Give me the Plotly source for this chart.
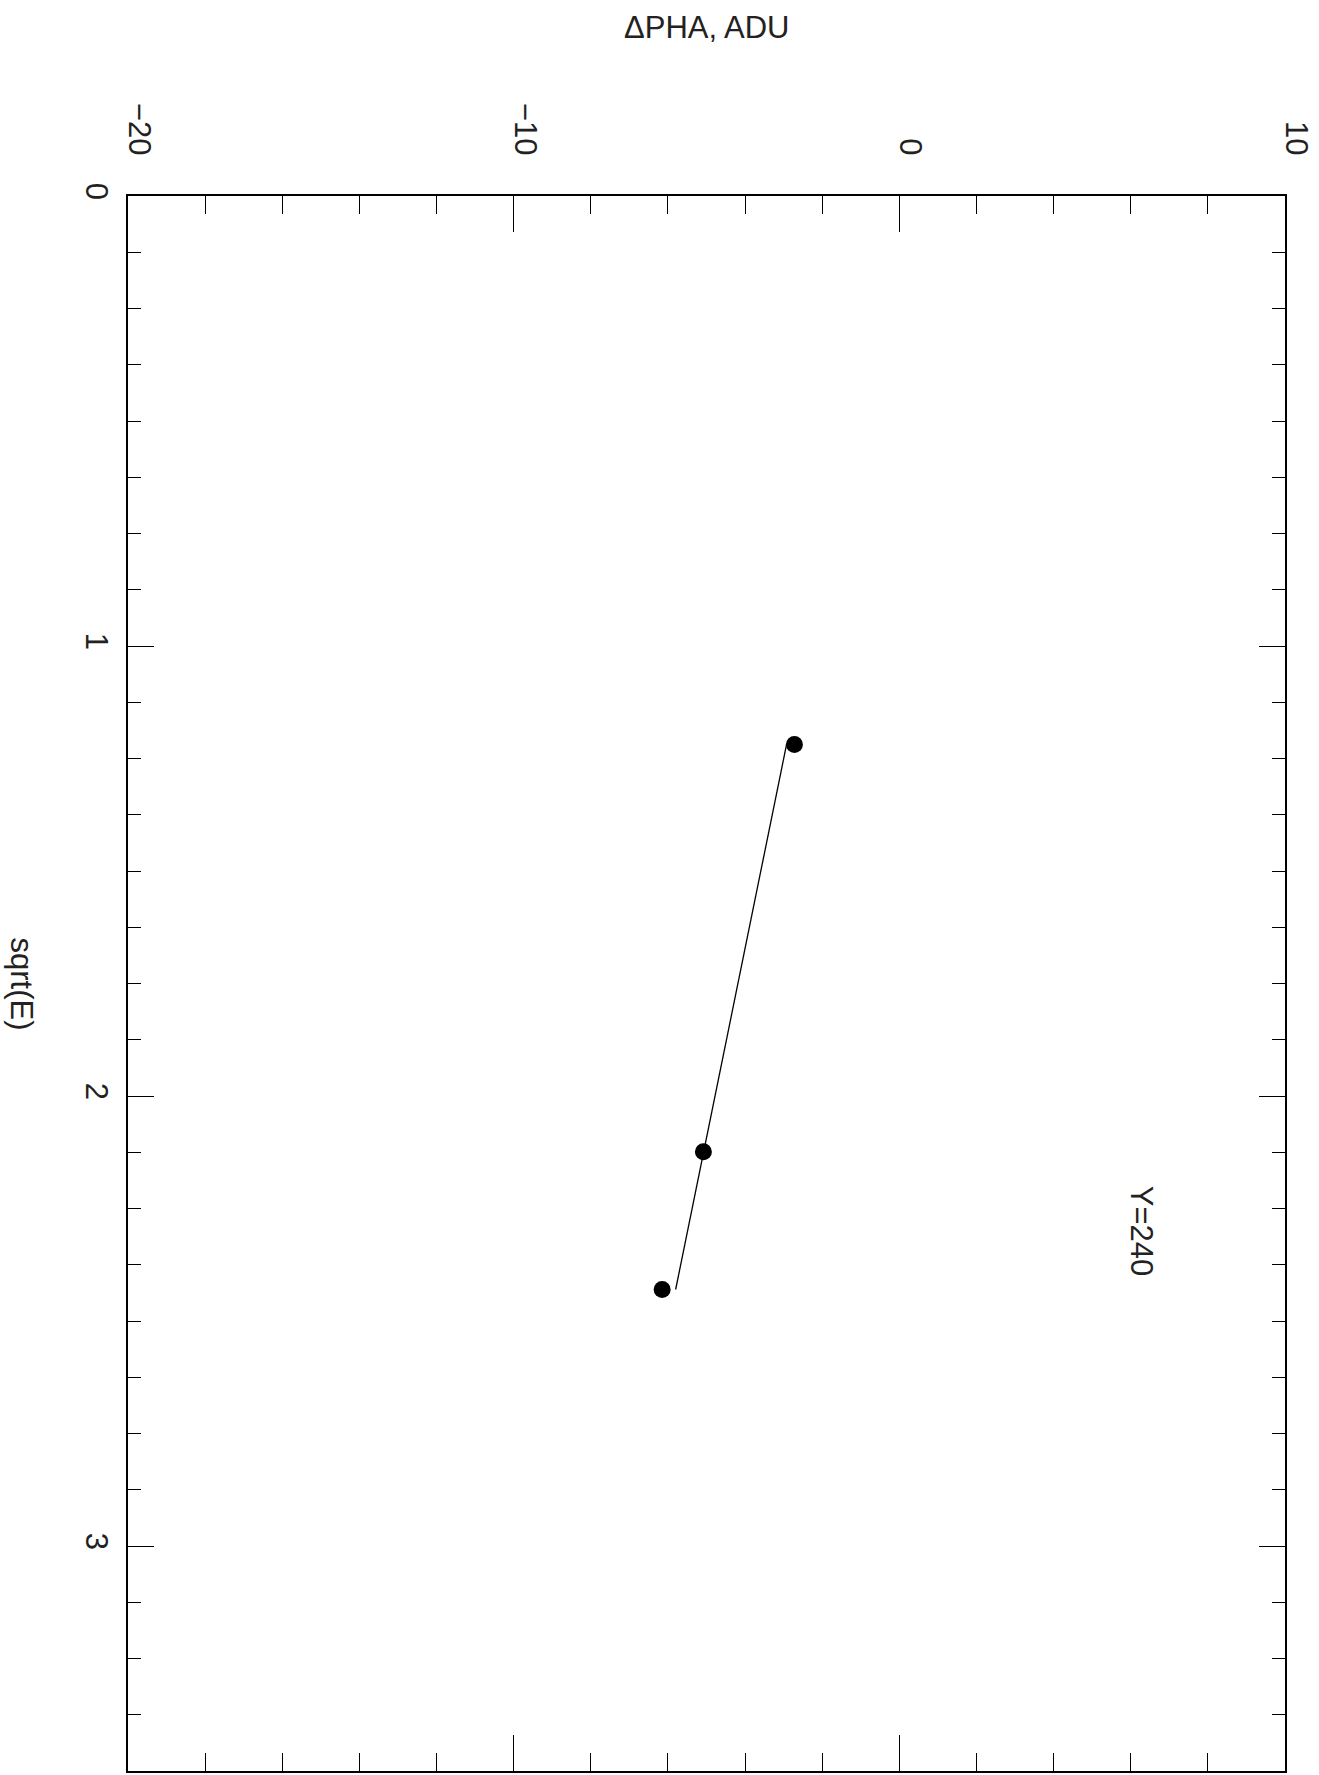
import plotly.graph_objects as go

# Data (sqrt of line energies in keV, ΔPHA in ADU)
sqrt_e = [1.219, 2.124, 2.430]
delta_pha = [-2.72, -5.08, -6.15]
# fitted line endpoints
fit_sqrt_e = [1.217, 2.430]
fit_delta_pha = [-2.92, -5.80]

x_ticks = [-20, -10, 0, 10]
x_tick_text = ["\u221220", "\u221210", "0", "10"]
y_ticks = [0, 1, 2, 3]

FONT = "Liberation Sans"
FS = 31
TXT = "#222222"

fig = go.Figure()
fig.add_trace(go.Scatter(x=fit_delta_pha, y=fit_sqrt_e, mode="lines",
                         line=dict(color="black", width=1.3), showlegend=False))
fig.add_trace(go.Scatter(x=delta_pha, y=sqrt_e, mode="markers",
                         marker=dict(color="black", size=17, line=dict(width=0)),
                         showlegend=False))

fig.update_layout(
    width=1319, height=1775,
    margin=dict(l=128, r=34, t=196, b=2),
    paper_bgcolor="white", plot_bgcolor="white",
    font=dict(family=FONT, size=FS, color=TXT),
    showlegend=False,
)
fig.update_xaxes(
    range=[-20, 10], side="top", tickvals=x_ticks, ticktext=x_tick_text,
    tickangle=90, ticks="inside", ticklen=36, tickwidth=1.2, tickcolor="black",
    minor=dict(dtick=2, tick0=-20, ticks="inside", ticklen=18, tickwidth=1.2, tickcolor="black", showgrid=False),
    showline=True, linecolor="black", linewidth=1.5, mirror="allticks",
    showgrid=False, zeroline=False, ticklabelstandoff=28, ticklabelshift=11,
    tickfont=dict(family=FONT, size=FS, color=TXT),
)
fig.update_yaxes(
    range=[3.5, 0], tickvals=y_ticks, tickangle=90,
    ticks="inside", ticklen=26, tickwidth=1.2, tickcolor="black",
    minor=dict(dtick=0.125, tick0=0, ticks="inside", ticklen=13, tickwidth=1.2, tickcolor="black", showgrid=False),
    showline=True, linecolor="black", linewidth=1.5, mirror="allticks",
    showgrid=False, zeroline=False, ticklabelstandoff=3,
    tickfont=dict(family=FONT, size=FS, color=TXT),
)

fig.add_annotation(text="\u0394PHA, ADU", xref="paper", yref="paper", x=0.5,
                   y=1 + (196 - 27) / 1577, xanchor="center", yanchor="middle",
                   showarrow=False, font=dict(family=FONT, size=FS, color=TXT))
fig.add_annotation(text="sqrt(E)", xref="paper", yref="paper", x=(21 - 128) / 1157,
                   y=0.5, xanchor="center", yanchor="middle", textangle=90,
                   showarrow=False, font=dict(family=FONT, size=FS, color=TXT))
fig.add_annotation(text="Y=240", xref="x", yref="y", x=6.3, y=2.30,
                   xanchor="center", yanchor="middle", textangle=90,
                   showarrow=False, font=dict(family=FONT, size=FS, color=TXT))

fig.write_html("out.html")
